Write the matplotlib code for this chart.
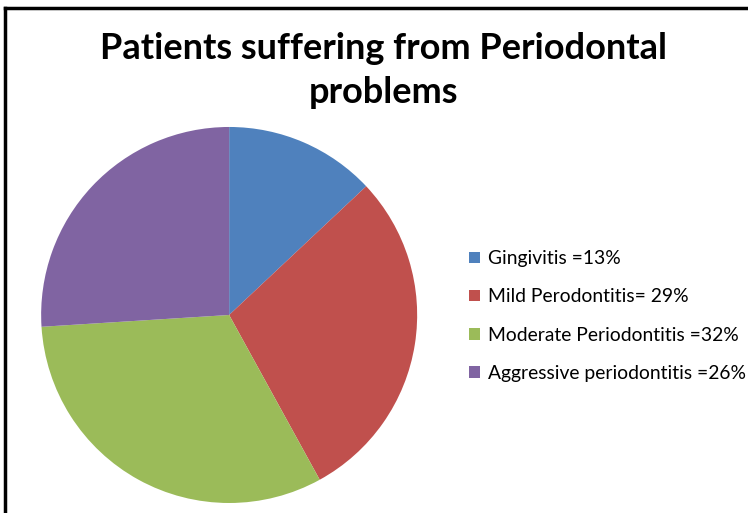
import matplotlib.pyplot as plt

# data
labels = ["Gingivitis =13%", "Mild Perodontitis= 29%",
          "Moderate Periodontitis =32%", "Aggressive periodontitis =26%"]
values = [13, 29, 32, 26]
colors = ["#4F81BD", "#C0504D", "#9BBB59", "#8064A2"]
title = "Patients suffering from Periodontal\nproblems"

plt.rcParams["font.family"] = ["Lato", "DejaVu Sans"]

fig = plt.figure(figsize=(7.48, 5.13), dpi=100)

# pie axes, centre about (229, 315) px, radius 188 px
ax = fig.add_axes([0.055, 0.0195, 0.5027, 0.733])
wedges, _ = ax.pie(values, colors=colors, startangle=90, counterclock=False)
ax.set_xlim(-1, 1)
ax.set_ylim(-1, 1)
ax.set_aspect("equal")

fig.text(0.513, 0.862, title, ha="center", va="center",
         fontsize=26, fontweight="bold", linespacing=1.4)

fig.legend(wedges, labels, loc="center left", bbox_to_anchor=(0.604, 0.384),
           frameon=False, fontsize=13.9, handlelength=0.55, handleheight=0.55,
           handletextpad=0.45, labelspacing=1.1)

# frame lines (left and top) like the source
fig.add_artist(plt.Line2D([0.007, 0.007], [0, 0.985], color="black", lw=2.5,
                          transform=fig.transFigure))
fig.add_artist(plt.Line2D([0.007, 1.0], [0.985, 0.985], color="black", lw=2.5,
                          transform=fig.transFigure))

fig.savefig("out.png", dpi=100)
